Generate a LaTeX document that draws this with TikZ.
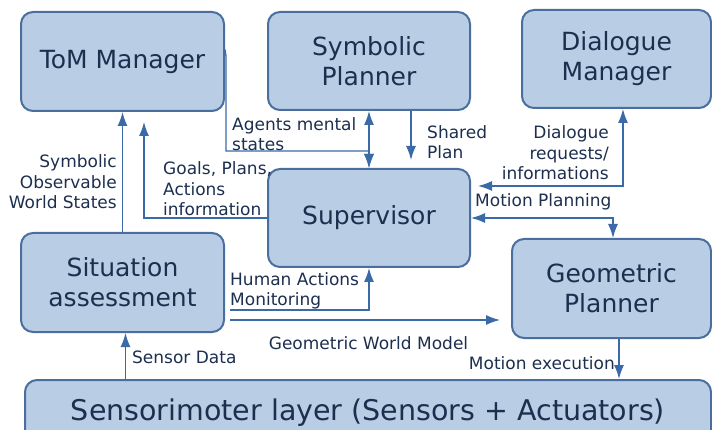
\documentclass[tikz,border=0pt]{standalone}
\usepackage{fontspec}
\setmainfont{DejaVu Sans}
\usetikzlibrary{arrows.meta}
\definecolor{boxfill}{HTML}{B9CDE5}
\definecolor{boxline}{HTML}{4A6F9E}
\definecolor{boxtext}{HTML}{1C2F4F}
\definecolor{linkcol}{HTML}{3A6AA8}
\tikzset{
  module/.style={draw=boxline, fill=boxfill, line width=2pt, rounded corners=12pt,
    text=boxtext, align=center, inner sep=0pt, font=\fontsize{25}{30}\selectfont},
  link/.style={draw=linkcol, line width=1.3pt, -{Latex[length=14pt,width=10pt]}},
  linkboth/.style={link, {Latex[length=14pt,width=10pt]}-{Latex[length=14pt,width=10pt]}},
  lbl/.style={text=boxtext, inner sep=0pt, font=\fontsize{17}{20.5}\selectfont}
}

\begin{document}
\begin{tikzpicture}[x=1pt,y=-1pt]
  \useasboundingbox (0,0) rectangle (712,430);
  \clip (0,0) rectangle (712,430);

  % modules
  \node[module, minimum width=203pt, minimum height=99pt] (tom) at (122.5,61.5) {ToM Manager};
  \node[module, minimum width=202pt, minimum height=98pt] (symb) at (369,61) {Symbolic\\Planner};
  \node[module, minimum width=189pt, minimum height=98pt] (dial) at (616.5,59) {Dialogue\\Manager};
  \node[module, minimum width=202pt, minimum height=98pt] (sup) at (369,218) {Supervisor};
  \node[module, minimum width=203pt, minimum height=99pt] (sit) at (122.5,282.5) {Situation\\assessment};
  \node[module, minimum width=199pt, minimum height=99pt] (geo) at (611.5,288.5) {Geometric\\Planner};
  \node[module, anchor=north, minimum width=686pt, text height=30pt, text depth=40pt, inner ysep=10pt,
    font=\fontsize{28.5}{34}\selectfont] (sens) at (368,379) {Sensorimoter layer (Sensors + Actuators)};

  % free ends
  \coordinate (goalsend) at (144,122);
  \coordinate (agentsstart) at (226,56);
  \coordinate (planend) at (411,160);
  \coordinate (dialend) at (478,186);
  \coordinate (humstart) at (230,310);
  \coordinate (gwmstart) at (230,320);
  \coordinate (gwmend) at (500,320);

  % connectors
  \draw[link] (sit) -- (tom);
  \draw[link] (sup.west) -| (goalsend);
  \draw[link] ([yshift=12pt]tom.east) -- (agentsstart) |- ([yshift=17pt]sup.north) -- (sup.north);
  \draw[linkboth] (symb.south) -- (sup.north);
  \draw[link] ([xshift=42pt]symb.south) -- (planend);
  \draw[linkboth] (dialend) -| ([xshift=6.5pt]dial.south);
  \draw[linkboth] (sup.east) -| ([xshift=1.5pt]geo.north);
  \draw[link] (humstart) -| (sup.south);
  \draw[link] (gwmstart) -- (gwmend);
  \draw[link] ([xshift=3pt]sit.south |- sens.north) -- ([xshift=3pt]sit.south);
  \draw[link] ([xshift=7.5pt]geo.south) -- ([xshift=7.5pt]geo.south |- sens.north);

  % labels
  \node[lbl, anchor=east, align=right] (lsymb) at (117,182) {Symbolic\\Observable\\World States};
  \node[lbl, anchor=west, align=left] (lgoals) at (163,189) {Goals, Plans,\\Actions\\information};
  \node[lbl, anchor=west, align=left] (lagents) at (232,134) {Agents mental\\states};
  \node[lbl, anchor=west, align=left] (lplan) at (427,142) {Shared\\Plan};
  \node[lbl, anchor=east, align=right] (ldial) at (609,153) {Dialogue\\requests/\\informations};
  \node[lbl, anchor=west] (lmotplan) at (475,202) {Motion Planning};
  \node[lbl, anchor=west, align=left] (lhuman) at (230,291) {Human Actions\\Monitoring};
  \node[lbl] (lgwm) at (368.5,343) {Geometric World Model};
  \node[lbl, anchor=west] (lsensor) at (132,357) {Sensor Data};
  \node[lbl, anchor=east] (lmotex) at (615,363) {Motion execution};
\end{tikzpicture}
\end{document}
